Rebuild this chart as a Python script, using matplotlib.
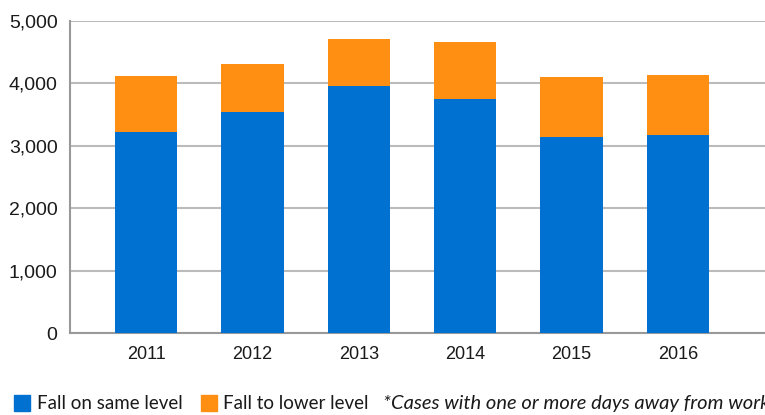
import matplotlib
matplotlib.use("Agg")
import matplotlib.pyplot as plt
from matplotlib.patches import Rectangle

years = ["2011", "2012", "2013", "2014", "2015", "2016"]
same_level = [3225, 3545, 3960, 3750, 3145, 3175]
lower_level = [895, 765, 755, 915, 955, 955]
yticks = [0, 1000, 2000, 3000, 4000, 5000]

blue = "#0071D0"
orange = "#FF8F12"

plt.rcParams['font.family'] = ['Liberation Sans', 'DejaVu Sans']

fig = plt.figure(figsize=(7.65, 4.15), dpi=100)
ax = fig.add_axes([70/765, 1-333/415, 1-70/765, 312/415])

x = list(range(len(years)))
ax.bar(x, same_level, width=0.585, color=blue, zorder=3)
ax.bar(x, lower_level, bottom=same_level, width=0.585, color=orange, zorder=3)

ax.set_ylim(0, 5000)
ax.set_xlim(-0.717, 5.82)
ax.set_yticks(yticks)
ax.set_yticklabels([f"{v:,}" for v in yticks], fontsize=14, color="#1a1a1a")
ax.set_xticks(x)
ax.set_xticklabels(years, fontsize=13, color="#1a1a1a")
ax.yaxis.grid(True, color="#bbbbbb", linewidth=1.5, zorder=0)
ax.tick_params(axis="y", length=0, pad=9)
ax.tick_params(axis="x", length=0, pad=9)
for s in ["top", "right"]:
    ax.spines[s].set_visible(False)
ax.spines["left"].set_color("#999999")
ax.spines["left"].set_linewidth(1.5)
ax.spines["bottom"].set_color("#999999")
ax.spines["bottom"].set_linewidth(1.5)

# legend
fs = 13.5
lfam = ['Lato', 'DejaVu Sans']
fig.patches.append(Rectangle((14/765, 1-411/415), 16/765, 16/415, transform=fig.transFigure, color=blue, figure=fig))
fig.text(37/765, 1-403/415, "Fall on same level", fontsize=fs, va="center", color="#1a1a1a", family=lfam)
fig.patches.append(Rectangle((201/765, 1-411/415), 16/765, 16/415, transform=fig.transFigure, color=orange, figure=fig))
fig.text(223/765, 1-403/415, "Fall to lower level", fontsize=fs, va="center", color="#1a1a1a", family=lfam)
fig.text(383/765, 1-403/415, "*Cases with one or more days away from work", fontsize=14.5, va="center", style="italic", color="#1a1a1a", family=lfam)

fig.savefig("out.png", dpi=100)
